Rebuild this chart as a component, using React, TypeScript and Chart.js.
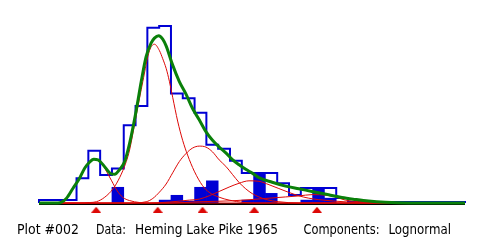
import React, { useEffect, useRef } from 'react';
import { Chart, registerables } from 'chart.js';

Chart.register(...registerables);

// Length axis (cm): open first bin, 2 cm bins, open last bin
const histEdges = [13.64, 20, 22, 24, 26, 28, 30, 32, 34, 36, 38, 40, 42, 44, 46, 48, 50, 52, 54, 56, 58, 60, 62, 64, 66, 85.82];
const histFreq = [3, 25.7, 54.3, 29, 35.7, 80.7, 100.7, 181.7, 183.7, 113.7, 108.7, 93.7, 60.3, 56.3, 43.7, 31, 31, 31, 20.5, 8.3, 15.5, 15.5, 15.5, 5.3, 1];

// Filled bars (bin centres, heights)
const barX = [27, 35, 37, 39, 41, 43, 49, 51, 53, 59, 61, 63];
const barY = [16.3, 3, 8, 2, 16.3, 23, 3, 31, 10, 3, 16, 5];

// Fitted mixture (green)
const mixX = [13.64, 16.85, 18.31, 19.38, 20.56, 21.4, 22.07, 22.92, 23.64, 24.49, 25.62, 26.46, 27.3, 28.15, 28.99, 30.12, 30.96, 31.8, 32.65, 33.2, 33.93, 34.6, 35.18, 36.29, 37.42, 38.55, 39.66, 40.79, 41.92, 43.04, 44.17, 45.3, 46.41, 47.54, 48.67, 49.78, 50.91, 53.15, 55.41, 57.66, 59.9, 62.72, 64.96, 67.22, 69.46, 72.28, 76.21, 85.82];
const mixY = [0, 0, 5, 15, 26.3, 36.3, 41.5, 45.3, 44.7, 39.7, 31.3, 29.7, 34.7, 43, 62, 96.3, 126, 152, 166, 171, 173.5, 170, 163, 143, 126, 113, 98, 86.3, 74, 65, 58, 52, 45, 39.7, 35, 31, 26.3, 21.5, 17.5, 14.7, 12, 8.5, 5.7, 3.7, 2, 0.7, 0, 0];

// Components (red)
const c1X = [13.64, 16.85, 18.31, 19.38, 20.56, 21.4, 22.07, 22.92, 23.64, 24.49, 25.06, 25.95, 26.85, 27.81, 28.99, 30.67, 32.36, 85.82];
const c1Y = [0, 0, 5, 15, 26, 36, 41.5, 45, 44, 39, 33, 23, 13, 6, 2.5, 0.5, 0, 0];
const c2X = [13.64, 20.56, 22.24, 23.37, 24.78, 26.18, 27.3, 28.43, 28.99, 30.12, 31.23, 32.36, 33.2, 34.05, 34.6, 35.18, 35.73, 36.29, 37.13, 37.98, 38.82, 39.95, 41.35, 42.48, 44.17, 45.85, 48.38, 50.91, 85.82];
const c2Y = [0, 0, 0.5, 1.3, 6, 14.7, 26.3, 43, 55, 91, 126, 158, 164.7, 158, 149.7, 139.7, 126.3, 109.7, 85, 65, 49.7, 33, 18, 11, 6, 3, 0.5, 0, 0];
const c3X = [13.64, 28.99, 31.8, 32.92, 34.05, 35.18, 36.29, 37.42, 38.55, 39.66, 40.79, 41.92, 43.04, 44.17, 45.3, 46.41, 47.54, 48.67, 49.78, 50.91, 52.04, 54.28, 57.66, 85.82];
const c3Y = [0, 0, 1.3, 4.7, 11.3, 19.7, 31.3, 43, 51.3, 57, 59, 58, 53, 44.7, 38, 29.7, 21.3, 14.7, 9.7, 6.3, 3.7, 1.3, 0, 0];
const c4X = [13.64, 32.36, 35.73, 39.11, 40.79, 42.48, 44.17, 45.85, 47.54, 49.22, 50.91, 52.6, 54.28, 55.97, 57.66, 59.34, 61.03, 63.56, 66.09, 69.46, 85.82];
const c4Y = [0, 0, 1, 3, 4, 7.5, 12, 16.5, 20.5, 23, 22.5, 19, 15, 11, 7.5, 5, 3.5, 2, 1, 0, 0];
const c5X = [13.64, 35.73, 40.79, 46.41, 52.04, 55.41, 57.66, 59.9, 62.43, 63.85, 65.53, 67.78, 70.64, 74.52, 85.82];
const c5Y = [0, 0, 1.3, 2.3, 4.7, 6.3, 7.3, 8.7, 8, 6.3, 3, 1.5, 0.5, 0, 0];

// Component means (triangles)
const means = [23.32, 33.76, 41.35, 50.12, 60.74];

const textParts = [
  { text: 'Plot #002', x: 17, w: 62 },
  { text: 'Data:', x: 96, w: 30 },
  { text: 'Heming Lake Pike 1965', x: 135, w: 143 },
  { text: 'Components:', x: 303.5, w: 76 },
  { text: 'Lognormal', x: 388.5, w: 62.5 },
];

const BLUE = '#0000d4';
const GREEN = '#0a800a';
const RED = '#dd0806';

const zip = (xs: number[], ys: number[]) => xs.map((x, i) => ({ x, y: ys[i] }));

export default function App() {
  const ref = useRef<HTMLCanvasElement>(null);
  useEffect(() => {
    if (!ref.current) return;
    const tri = document.createElement('canvas');
    tri.width = 10;
    tri.height = 6;
    const tc = tri.getContext('2d')!;
    tc.fillStyle = RED;
    tc.beginPath();
    tc.moveTo(0, 6);
    tc.lineTo(5, 0);
    tc.lineTo(10, 6);
    tc.closePath();
    tc.fill();

    const stepData = [{ x: histEdges[0], y: 0 }];
    histFreq.forEach((f, i) => stepData.push({ x: histEdges[i], y: f }));
    stepData.push({ x: histEdges[histEdges.length - 1], y: 0 });

    const comp = (xs: number[], ys: number[]) => ({
      type: 'line' as const,
      data: zip(xs, ys),
      borderColor: RED,
      borderWidth: 1,
      pointRadius: 0,
      cubicInterpolationMode: 'monotone' as const,
      fill: false,
      clip: false as const,
      order: 1,
    });

    const basePlugin = {
      id: 'base',
      beforeDatasetsDraw(chart: any) {
        const { ctx, chartArea } = chart;
        ctx.save();
        ctx.fillStyle = '#000';
        ctx.fillRect(chartArea.left, chartArea.bottom, chartArea.right - chartArea.left, 2);
        ctx.restore();
      },
      afterDraw(chart: any) {
        const { ctx } = chart;
        ctx.save();
        ctx.fillStyle = '#000';
        ctx.font = '14px "DejaVu Sans"';
        ctx.textBaseline = 'alphabetic';
        ctx.textAlign = 'left';
        textParts.forEach((p) => ctx.fillText(p.text, p.x, 233.5, p.w));
        ctx.restore();
      },
    };

    const chart = new Chart(ref.current, {
      type: 'line',
      data: {
        datasets: [
          {
            type: 'line',
            data: means.map((m) => ({ x: m, y: -7 })),
            showLine: false,
            pointStyle: tri as any,
            pointRadius: 14,
            clip: false as any,
            order: 0,
          },
          {
            type: 'line',
            data: zip(mixX, mixY),
            borderColor: GREEN,
            borderWidth: 3,
            pointRadius: 0,
            cubicInterpolationMode: 'monotone',
            fill: false,
            clip: false as any,
            order: 0,
          },
          comp(c1X, c1Y),
          comp(c2X, c2Y),
          comp(c3X, c3Y),
          comp(c4X, c4Y),
          comp(c5X, c5Y),
          {
            type: 'line',
            data: stepData,
            stepped: true,
            borderColor: BLUE,
            borderWidth: 2,
            pointRadius: 0,
            fill: false,
            clip: false as any,
            order: 2,
          },
          {
            type: 'bar',
            data: zip(barX, barY) as any,
            backgroundColor: BLUE,
            borderWidth: 0,
            barPercentage: 1,
            categoryPercentage: 1,
            order: 3,
          } as any,
        ],
      },
      options: {
        responsive: false,
        animation: false,
        devicePixelRatio: 1,
        layout: { padding: { left: 39, right: 13, top: 8, bottom: 41 } },
        scales: {
          x: { type: 'linear', min: 13.64, max: 85.82, display: false, offset: false },
          y: { type: 'linear', min: 0, max: 195, display: false },
        },
        plugins: { legend: { display: false }, tooltip: { enabled: false } },
        events: [],
      },
      plugins: [basePlugin],
    });
    return () => chart.destroy();
  }, []);

  return (
    <div style={{ position: 'absolute', left: 0, top: 0, width: 480, height: 244, background: '#fff' }}>
      <canvas ref={ref} width={480} height={244} style={{ width: 480, height: 244, display: 'block' }} />
    </div>
  );
}
